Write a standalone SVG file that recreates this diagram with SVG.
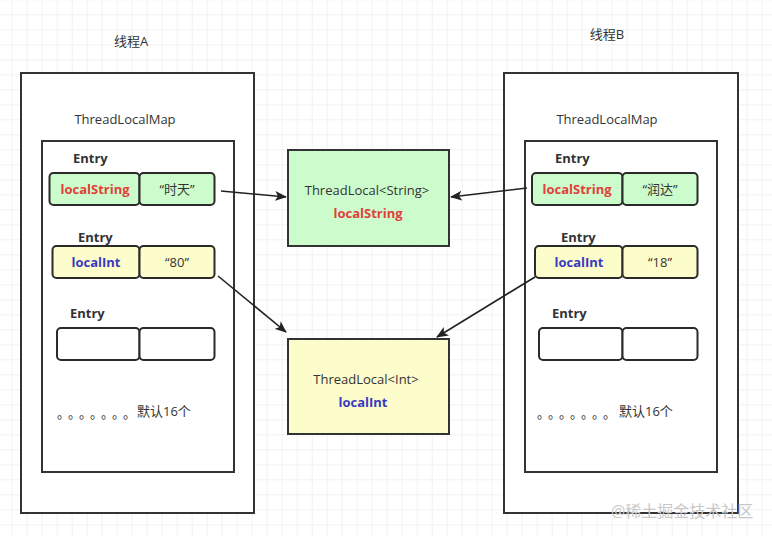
<svg xmlns="http://www.w3.org/2000/svg" width="772" height="536" viewBox="0 0 772 536">
<defs>
<pattern id="grid" x="11.7" y="14.3" width="15" height="15" patternUnits="userSpaceOnUse">
<path d="M0 0 H15 M0 0 V15" fill="none" stroke="#e6e6e6" stroke-width="1"/>
</pattern>
<marker id="arr" viewBox="0 0 12 10" refX="11" refY="5" markerWidth="12" markerHeight="10" markerUnits="userSpaceOnUse" orient="auto">
<path d="M0 0 L12 5 L0 10 L3 5 Z" fill="#222"/>
</marker>
</defs>
<style>
text{font-family:"Open Sans","Noto Sans","Noto Sans CJK SC",sans-serif;font-size:13px;fill:#333}
.dots{font-family:"Noto Sans CJK SC",sans-serif;font-size:13px}
.frame{fill:#fff;stroke:#333;stroke-width:2}
.cell{stroke:#2a2a2a;stroke-width:2}
.g{fill:#ccfbcc}
.y{fill:#fdfdcb}
.w{fill:#fff}
.entry{font-weight:bold}
.red{fill:#e0403a;font-weight:bold}
.blue{fill:#3a3ac0;font-weight:bold}
.c{text-anchor:middle}
.conn{fill:none;stroke:#222;stroke-width:1.6;marker-end:url(#arr)}
</style>
<rect width="772" height="536" fill="#fff"/>
<rect width="772" height="536" fill="url(#grid)"/>

<g id="threadA">
<text x="131" y="46" class="c">线程A</text>
<rect class="frame" x="21" y="73" width="233" height="440"/>
<text x="125" y="124" class="c">ThreadLocalMap</text>
<rect class="frame" x="42" y="141" width="192" height="331"/>
<text x="73" y="163" class="entry">Entry</text>
<rect class="cell g" x="49.5" y="173" width="90" height="32" rx="4"/>
<rect class="cell g" x="139.5" y="173" width="75" height="32" rx="4"/>
<text x="95" y="194" class="c red">localString</text>
<text x="177" y="194" class="c">“时天”</text>
<text x="78" y="242" class="entry">Entry</text>
<rect class="cell y" x="52.5" y="246" width="87" height="32" rx="4"/>
<rect class="cell y" x="139.5" y="246" width="75" height="32" rx="4"/>
<text x="96" y="267" class="c blue">localInt</text>
<text x="177" y="267" class="c">“80”</text>
<text x="70" y="318" class="entry">Entry</text>
<rect class="cell w" x="57" y="328" width="82.5" height="32" rx="4"/>
<rect class="cell w" x="139.5" y="328" width="75" height="32" rx="4"/>
<text class="dots" x="57 68 79 90 101 112 123" y="418">。。。。。。。</text>
<text x="137" y="416">默认16个</text>
</g>

<g id="threadB">
<text x="607" y="39" class="c">线程B</text>
<rect class="frame" x="504" y="73" width="234" height="440"/>
<text x="607" y="124" class="c">ThreadLocalMap</text>
<rect class="frame" x="525" y="141" width="192" height="331"/>
<text x="555" y="163" class="entry">Entry</text>
<rect class="cell g" x="532" y="173" width="90.5" height="32" rx="4"/>
<rect class="cell g" x="622.5" y="173" width="75" height="32" rx="4"/>
<text x="577" y="194" class="c red">localString</text>
<text x="660" y="194" class="c">“润达”</text>
<text x="561" y="242" class="entry">Entry</text>
<rect class="cell y" x="535" y="246" width="87.5" height="32" rx="4"/>
<rect class="cell y" x="622.5" y="246" width="75" height="32" rx="4"/>
<text x="579" y="267" class="c blue">localInt</text>
<text x="660" y="267" class="c">“18”</text>
<text x="552" y="318" class="entry">Entry</text>
<rect class="cell w" x="539" y="328" width="83.5" height="32" rx="4"/>
<rect class="cell w" x="622.5" y="328" width="75" height="32" rx="4"/>
<text class="dots" x="537 548 559 570 581 592 603" y="418">。。。。。。。</text>
<text x="619" y="416">默认16个</text>
</g>

<g id="tlString">
<rect class="frame g" x="288" y="150" width="161" height="96"/>
<text x="367" y="195" class="c">ThreadLocal&lt;String&gt;</text>
<text x="368" y="218" class="c red">localString</text>
</g>

<g id="tlInt">
<rect class="frame y" x="288" y="339" width="161" height="95"/>
<text x="366" y="384" class="c">ThreadLocal&lt;Int&gt;</text>
<text x="363" y="407" class="c blue">localInt</text>
</g>

<g id="connectors">
<path class="conn" d="M221 191 L286 197"/>
<path class="conn" d="M527 188 L451 197"/>
<path class="conn" d="M218 276 L286 332"/>
<path class="conn" d="M535 277 L437 337"/>
</g>

<text x="611" y="517" style="font-size:16px;fill:#c8c8c8">@稀土掘金技术社区</text>
</svg>
